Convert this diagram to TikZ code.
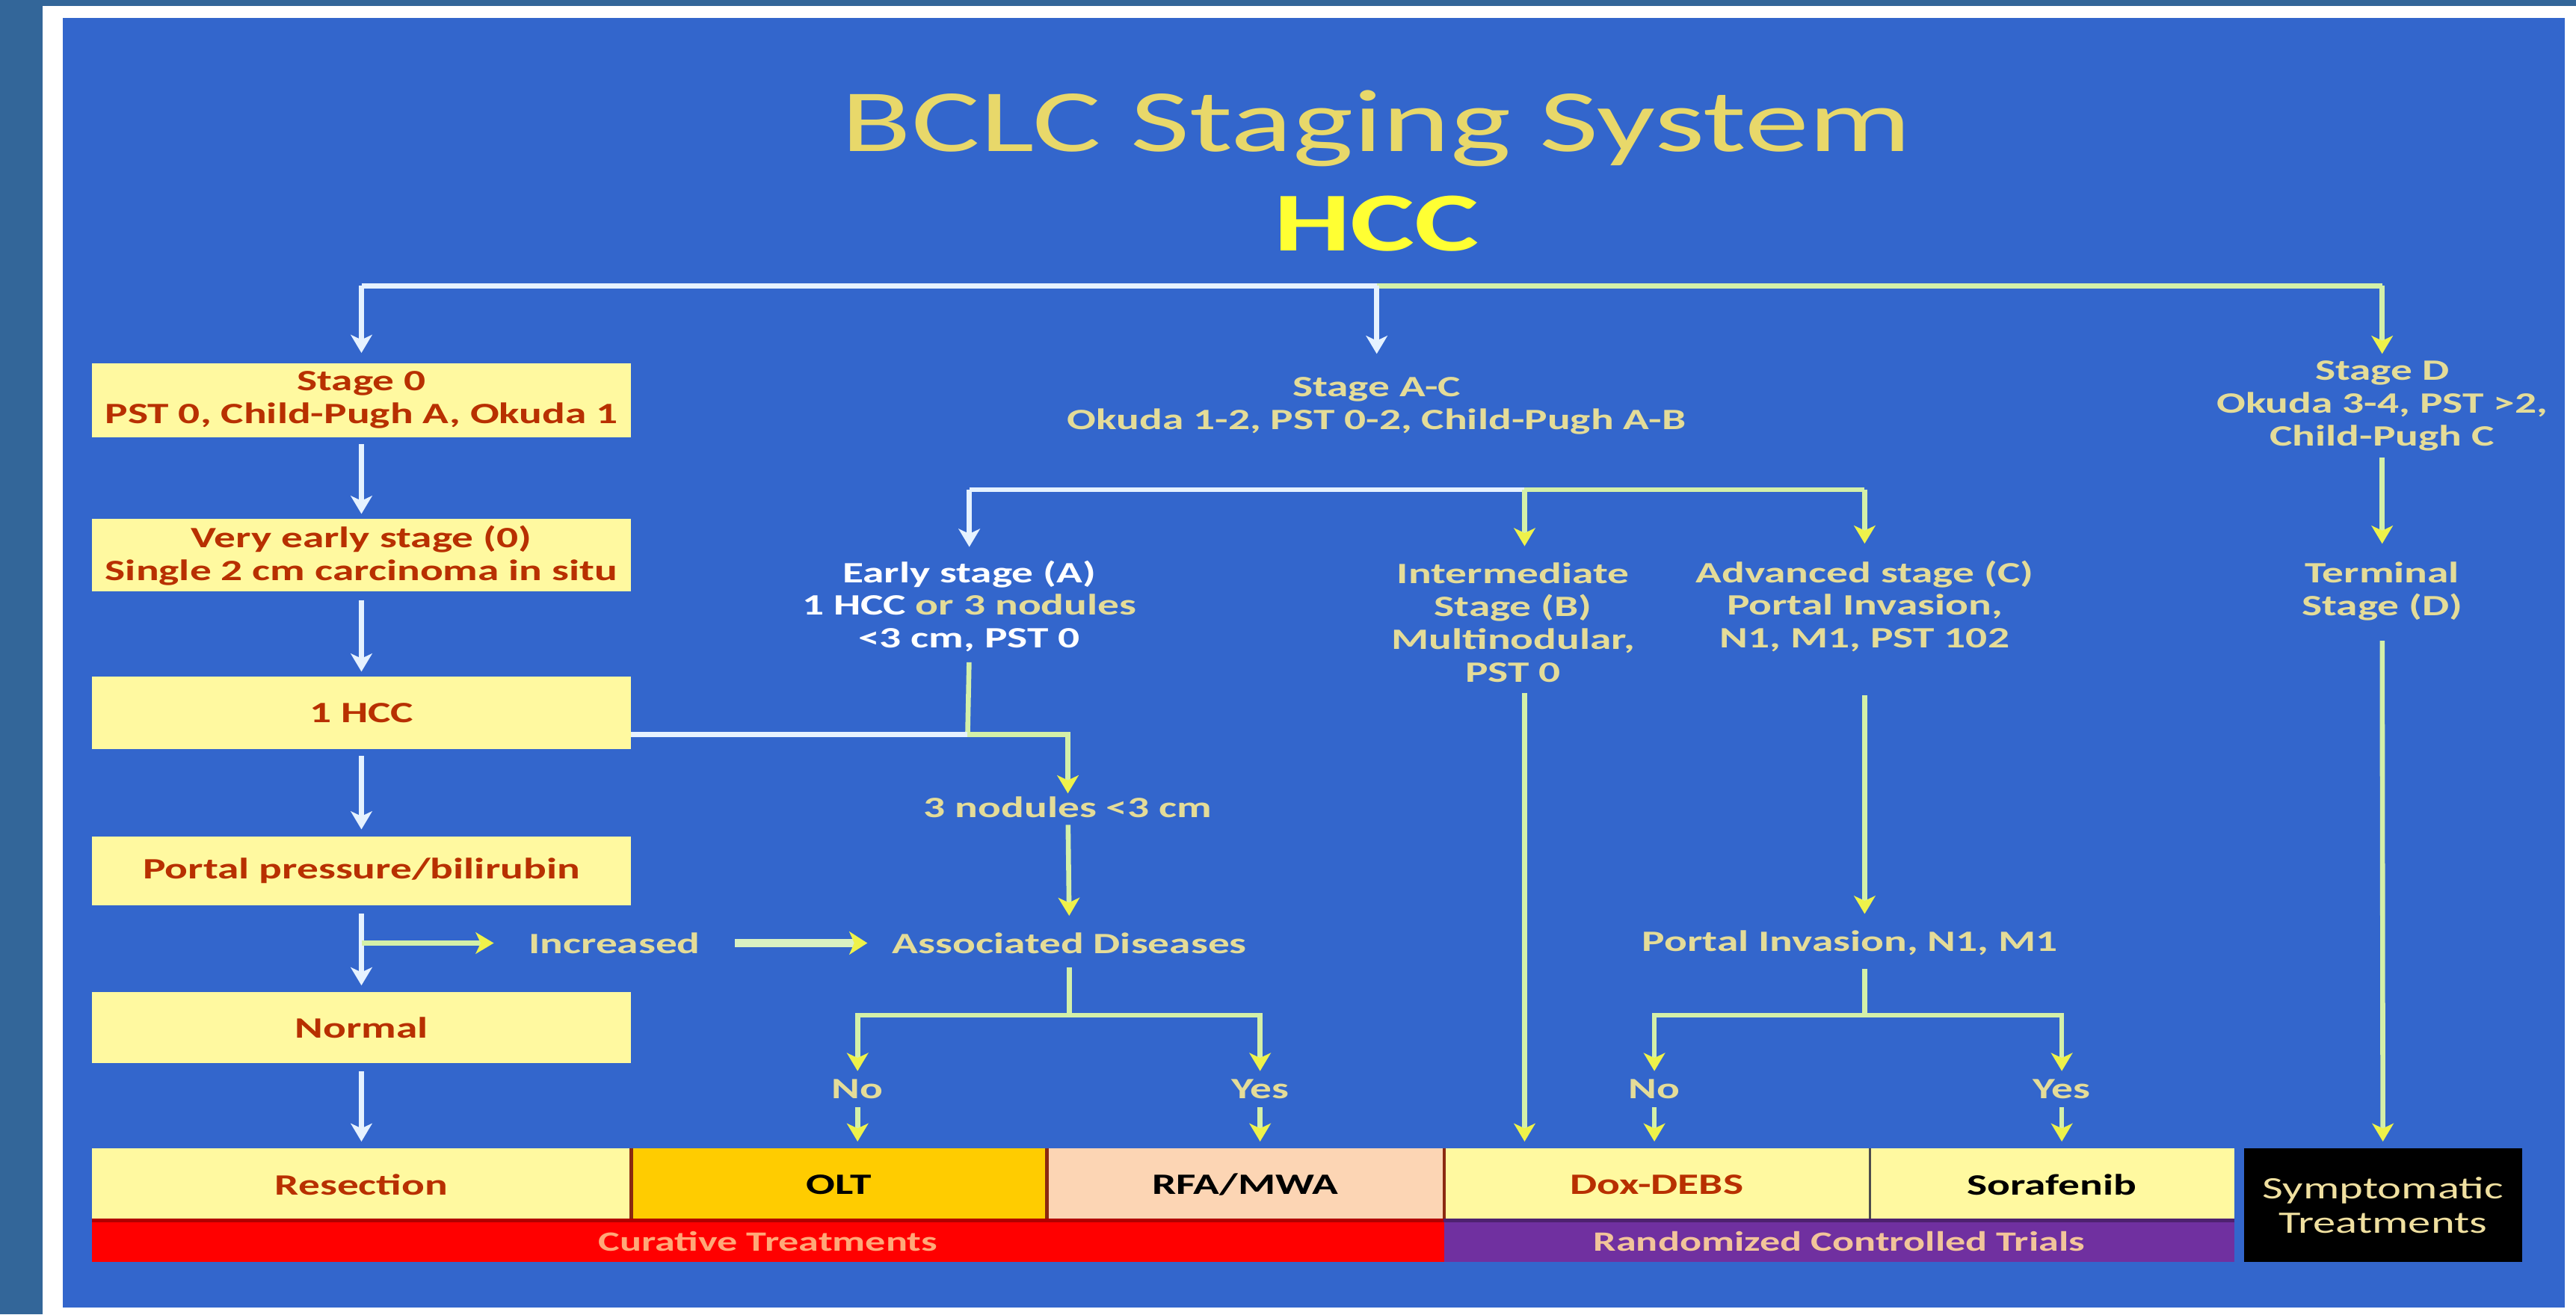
\documentclass[tikz,border=0pt]{standalone}
\usepackage{fontspec}
\setmainfont{Carlito}[FakeStretch=1.45]
\usetikzlibrary{arrows.meta}
\definecolor{outerblue}{HTML}{336699}
\definecolor{panelblue}{HTML}{3366CC}
\definecolor{boxyellow}{HTML}{FFF9A0}
\definecolor{boxred}{HTML}{B83000}
\definecolor{oltcol}{HTML}{FFCC00}
\definecolor{rfacol}{HTML}{FCD5B4}
\definecolor{rctpurple}{HTML}{7030A0}
\definecolor{labcol}{HTML}{E4DC98}
\definecolor{titlecol}{HTML}{E8D86A}
\definecolor{hcccol}{HTML}{FFFF33}
\definecolor{wcol}{HTML}{E6F2FF}
\definecolor{gcol}{HTML}{D4F0A8}
\definecolor{tipcol}{HTML}{EEF24A}
\definecolor{curtxt}{HTML}{FFA878}
\definecolor{rcttxt}{HTML}{F2C49A}
\definecolor{symtxt}{HTML}{F0E0A0}
\definecolor{divcol}{HTML}{8B2A10}
\begin{document}
\begin{tikzpicture}[x=1pt,y=-1pt,
  lbox/.style={rectangle, fill=boxyellow, minimum width=328pt, inner sep=0pt, align=center,
    font=\bfseries\fontsize{18}{20}\selectfont, text=boxred},
  bbox/.style={rectangle, minimum height=44pt, inner sep=0pt, align=center,
    font=\bfseries\fontsize{18}{20}\selectfont},
  barbox/.style={rectangle, minimum height=25pt, inner sep=0pt, align=center,
    font=\bfseries\fontsize{17}{20}\selectfont},
  lab/.style={align=center, inner sep=0pt, font=\bfseries\fontsize{18}{20}\selectfont, text=labcol},
  wl/.style={draw=wcol, line width=3pt},
  gl/.style={draw=gcol, line width=3pt},
  wa/.style={wl, -{Stealth[length=11pt,width=13pt,inset=3pt,color=wcol]}},
  ga/.style={gl, -{Stealth[length=11pt,width=13pt,inset=3pt,color=tipcol]}},
  divl/.style={draw=divcol, line width=2pt}
]
\useasboundingbox (0,0) rectangle (1568,800);
% frame
\fill[outerblue] (0,0) rectangle (1568,800);
\fill[white] (26,3.5) rectangle (1568,800);
\fill[panelblue] (38,11) rectangle (1561,796);

% titles
\node[font=\fontsize{54}{60}\selectfont, text=titlecol, inner sep=0pt] (title) at (838,78) {BCLC Staging System};
\node[font=\bfseries\fontsize{51}{54}\selectfont, text=hcccol, inner sep=0pt] (hcc) at (838,136) {HCC};

% left column boxes
\node[lbox, minimum height=45pt] (s0) at (220,243.5) {Stage 0\\PST 0, Child-Pugh A, Okuda 1};
\node[lbox, minimum height=44pt] (ve) at (220,338) {Very early stage (0)\\Single 2 cm carcinoma in situ};
\node[lbox, minimum height=44pt] (hcc1) at (220,434) {1 HCC};
\node[lbox, minimum height=42pt] (ppb) at (220,530) {Portal pressure/bilirubin};
\node[lbox, minimum height=43pt] (norm) at (220,625.5) {Normal};
\node[lbox, minimum height=44pt] (res) at (220,721) {Resection};

% bottom row
\node[bbox, fill=oltcol, text=black, minimum width=253pt] (olt) at (510.5,721) {OLT};
\node[bbox, fill=rfacol, text=black, minimum width=242pt] (rfa) at (758,721) {RFA/MWA};
\node[bbox, fill=boxyellow, text=boxred, minimum width=259pt] (dox) at (1008.5,721) {Dox-DEBS};
\node[bbox, fill=boxyellow, text=black, minimum width=222pt] (sor) at (1249,721) {Sorafenib};
\node[rectangle, fill=black, minimum width=169pt, minimum height=69pt, inner sep=0pt, align=center,
  font=\fontsize{19}{21}\selectfont, text=symtxt] (sym) at (1450.5,733.5) {Symptomatic\\Treatments};
\node[barbox, fill=red, text=curtxt, minimum width=823pt] (cur) at (467.5,755.5) {Curative Treatments};
\node[barbox, fill=rctpurple, text=rcttxt, minimum width=481pt] (rct) at (1119.5,755.5) {Randomized Controlled Trials};
\draw[divl] (res.north east) -- (res.south east);
\draw[divl] (olt.north east) -- (olt.south east);
\draw[divl] (rfa.north east) -- (rfa.south east);
\draw[draw=black!70, line width=1.5pt] (dox.north east) -- (dox.south east);
\draw[draw=red!70!black, line width=2pt] (cur.north west) -- (cur.north east);
\draw[draw=rctpurple!70!black, line width=2pt] (rct.north west) -- (rct.north east);

% free labels
\node[lab] (sAC) at (838,247) {Stage A-C\\Okuda 1-2, PST 0-2, Child-Pugh A-B};
\node[lab] (sD) at (1450,247) {Stage D\\Okuda 3-4, PST >2,\\Child-Pugh C};
\node[lab, text=white] (early) at (590,369) {Early stage (A)\\1 HCC {\color{labcol}or 3 nodules}\\<3 cm, PST 0};
\node[lab] (inter) at (921,379) {Intermediate\\Stage (B)\\Multinodular,\\PST 0};
\node[lab] (adv) at (1135,369) {Advanced stage (C)\\Portal Invasion,\\N1, M1, PST 102};
\node[lab] (term) at (1450,360) {Terminal\\Stage (D)};
\node[lab] (three) at (650,491.5) {3 nodules <3 cm};
\node[lab] (incr) at (374,574) {Increased};
\node[lab] (assoc) at (651,574) {Associated Diseases};
\node[lab] (pinv) at (1126,574) {Portal Invasion, N1, M1};
\node[lab] (no1) at (522,663) {No};
\node[lab] (yes1) at (767,663) {Yes};
\node[lab] (no2) at (1007,663) {No};
\node[lab] (yes2) at (1255,663) {Yes};

% junction coordinates
\coordinate (tb1) at (220,174);
\coordinate (tb2) at (838,174);
\coordinate (tb3) at (1450,174);
\coordinate (mb) at (928,298);
\coordinate (j1) at (589,447);
\coordinate (j2) at (651,618);
\coordinate (j3) at (1135,618);

% top bar
\draw[wl] (tb1) -- (tb2);
\draw[gl] (tb2) -- (tb3);
\draw[wa, shorten >=6pt] (tb1) -- (s0);
\draw[wa, shorten >=14pt] (tb2) -- (sAC);
\draw[ga, shorten >=4pt] (tb3) -- (sD);

% left column
\draw[wa, shorten <=4pt, shorten >=3pt] (s0) -- (ve);
\draw[wa, shorten <=5pt, shorten >=3pt] (ve) -- (hcc1);
\draw[wa, shorten <=4pt, shorten >=4pt] (hcc1) -- (ppb);
\draw[wa, shorten <=5pt, shorten >=4pt] (ppb) -- (norm);
\draw[wa, shorten <=5pt, shorten >=4pt] (norm) -- (res);
\draw[ga, shorten >=21pt] (ppb.south |- incr) -- (incr);
\draw[draw=gcol!70!wcol, line width=5pt, -{Stealth[length=11pt,width=14pt,inset=3pt,color=tipcol]},
  shorten <=21pt, shorten >=15pt] (incr) -- (assoc);

% middle bar
\draw[wl] (early.north |- mb) -- (mb);
\draw[gl] (mb) -- (adv.north |- mb);
\draw[wa, shorten >=8pt] (early.north |- mb) -- (early);
\draw[ga, shorten >=10pt] (mb) -- (mb |- inter.north);
\draw[ga, shorten >=10pt] (adv.north |- mb) -- (adv);

% early / 1 HCC branch
\draw[gl, shorten <=6pt] (early.south) -- (j1);
\draw[wl] (hcc1.east |- j1) -- (j1);
\draw[ga, shorten >=2pt] (j1) -| (three);
\draw[ga, shorten <=4pt, shorten >=10pt] (three) -- (assoc);
\draw[gl, shorten <=8pt] (assoc) -- (j2);
\draw[ga, shorten >=5pt] (j2) -| (no1);
\draw[ga, shorten >=5pt] (j2) -| (yes1);
\draw[ga, shorten <=5pt, shorten >=4pt] (no1) -- (no1 |- olt.north);
\draw[ga, shorten <=5pt, shorten >=4pt] (yes1) -- (yes1 |- rfa.north);

% intermediate
\draw[ga, shorten <=6pt, shorten >=4pt] (mb |- inter.south) -- (mb |- dox.north);

% advanced
\draw[ga, shorten <=26pt, shorten >=10pt] (adv.south) -- (adv.south |- pinv.north);
\draw[gl, shorten <=8pt] (pinv.south -| j3) -- (j3);
\draw[ga, shorten >=5pt] (j3) -| (no2);
\draw[ga, shorten >=5pt] (j3) -| (yes2);
\draw[ga, shorten <=5pt, shorten >=4pt] (no2) -- (no2 |- dox.north);
\draw[ga, shorten <=5pt, shorten >=4pt] (yes2) -- (yes2 |- sor.north);

% terminal
\draw[ga, shorten <=4pt, shorten >=11pt] (sD) -- (term);
\draw[ga, shorten <=12pt, shorten >=4pt] (term) -- (sym);
\end{tikzpicture}
\end{document}
